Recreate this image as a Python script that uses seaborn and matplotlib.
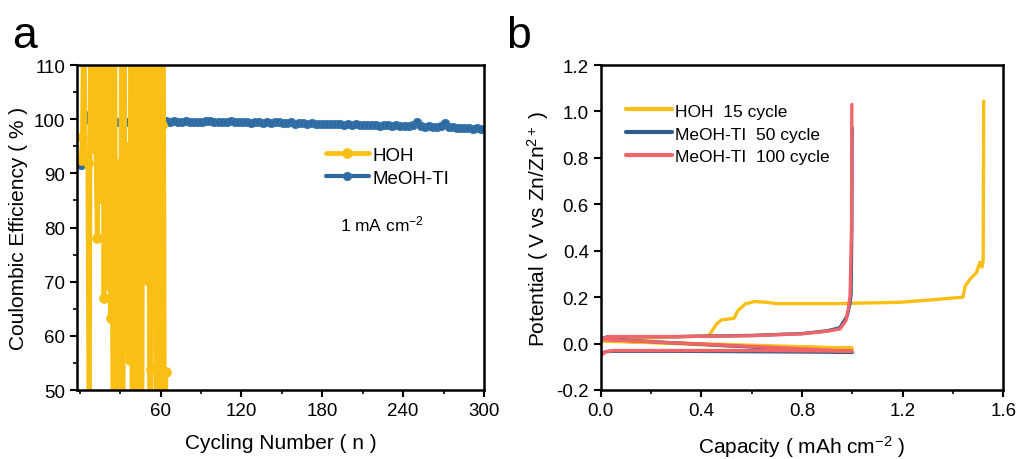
import numpy as np
import pandas as pd
import matplotlib.pyplot as plt
import seaborn as sns
from matplotlib.ticker import MultipleLocator

# ---- panel a : coulombic efficiency ----
hoh_cycle = list(range(1, 65))
hoh_ce = [92.5, 96.7, 125, 93.5, 93.2, 91.9, 35, 125, 95.2, 125,
          125, 94.5, 78.1, 125, 85.5, 125, 125, 67.0, 125, 107.4,
          69.4, 125, 63.3, 76.7, 30, 125, 35, 81.4, 91.7, 30,
          125, 30, 125, 58.3, 94.9, 57.1, 55.6, 125, 30, 93.0,
          125, 30, 125, 76.2, 125, 30, 125, 125, 125, 70.4,
          125, 30, 53.9, 125, 87.1, 125, 30, 125, 30, 125,
          98.9, 125, 30, 53.4]

meoh_cycle = list(range(1, 300, 3))
meoh_ce = [91.5, 100.8, 99.8, 99.5, 99.6, 99.5, 99.6, 99.5, 99.6, 99.5,
           99.6, 99.5, 99.6, 99.5, 99.6, 99.6, 99.5, 99.6, 99.6, 99.5,
           99.6, 99.6, 99.5, 99.6, 99.5, 99.5, 99.6, 99.5, 99.5, 99.4,
           99.5, 99.6, 99.7, 99.5, 99.5, 99.4, 99.5, 99.6, 99.4, 99.4,
           99.5, 99.4, 99.3, 99.4, 99.4, 99.3, 99.4, 99.3, 99.4, 99.5,
           99.3, 99.3, 99.4, 99.2, 99.3, 99.3, 99.2, 99.3, 99.2, 99.2,
           99.1, 99.2, 99.1, 99.2, 99.1, 99.0, 99.1, 99.0, 99.1, 98.9,
           99.0, 98.9, 99.0, 98.9, 98.8, 98.9, 98.9, 98.7, 98.9, 98.8,
           98.7, 98.8, 99.0, 99.4, 98.7, 98.6, 98.7, 98.5, 98.6, 98.8,
           99.3, 98.5, 98.5, 98.4, 98.4, 98.3, 98.4, 98.2, 98.3, 98.2]

# ---- panel b : voltage profiles (discharge then charge) ----
hoh_cap = [0.0, 0.1, 0.3, 0.5, 0.8, 1.0,
           0.0, 0.05, 0.2, 0.43, 0.46, 0.48, 0.53, 0.545, 0.575, 0.61, 0.66, 0.70,
           0.93, 1.19, 1.32, 1.44, 1.448, 1.468, 1.494, 1.507, 1.515, 1.52, 1.522]
hoh_v = [0.01, 0.008, 0.0, -0.01, -0.016, -0.02,
         0.012, 0.02, 0.025, 0.034, 0.084, 0.102, 0.109, 0.142, 0.171, 0.181, 0.178, 0.172,
         0.172, 0.178, 0.189, 0.200, 0.247, 0.278, 0.307, 0.350, 0.33, 0.36, 1.045]

m50_cap = [0.0, 0.02, 0.05, 0.3, 0.6, 0.9, 1.0,
           0.0, 0.03, 0.3, 0.6, 0.8, 0.9, 0.95, 0.98, 0.99, 0.995, 0.998, 0.999]
m50_v = [-0.045, -0.035, -0.033, -0.033, -0.035, -0.037, -0.038,
         0.02, 0.03, 0.03, 0.035, 0.043, 0.055, 0.068, 0.12, 0.17, 0.21, 0.5, 0.93]

m100_cap = [0.0, 0.02, 0.05, 0.3, 0.6, 0.9, 1.0,
            0.0, 0.03, 0.3, 0.6, 0.8, 0.9, 0.951, 0.975, 0.984, 0.991, 0.997, 0.998]
m100_v = [-0.052, -0.035, -0.03, -0.03, -0.03, -0.032, -0.033,
          0.018, 0.03, 0.03, 0.034, 0.042, 0.053, 0.063, 0.10, 0.149, 0.206, 0.5, 1.03]

# colours
c_yel = "#F9BF14"
c_blu = "#2E6AA2"
c_nav = "#2F5A8C"
c_red = "#F0656A"

sns.set_style("ticks")
plt.rcParams['font.family'] = ['Liberation Sans', 'DejaVu Sans']
plt.rcParams['mathtext.fontset'] = 'custom'
plt.rcParams['mathtext.rm'] = 'Liberation Sans'
plt.rcParams['mathtext.it'] = 'Liberation Sans'
plt.rcParams['axes.linewidth'] = 1.8
plt.rcParams['axes.edgecolor'] = 'black'
plt.rcParams['text.color'] = 'black'
plt.rcParams['axes.labelcolor'] = 'black'
plt.rcParams['xtick.color'] = 'black'
plt.rcParams['ytick.color'] = 'black'

fig = plt.figure(figsize=(10.19, 4.6), dpi=100)
ax1 = fig.add_axes([0.0756, 0.15, 0.3994, 0.7065])
ax2 = fig.add_axes([0.5895, 0.15, 0.3951, 0.7065])

# --- a ---
df_m = pd.DataFrame({"cycle": meoh_cycle, "ce": meoh_ce})
df_h = pd.DataFrame({"cycle": hoh_cycle, "ce": hoh_ce})
sns.lineplot(data=df_m, x="cycle", y="ce", ax=ax1, color=c_blu, lw=3,
             marker="o", markersize=6, markeredgecolor="#3D78AE", markeredgewidth=0.6,
             sort=False, estimator=None, label="MeOH-TI")
sns.lineplot(data=df_h, x="cycle", y="ce", ax=ax1, color=c_yel, lw=3.4,
             marker="o", markersize=7, markeredgecolor=c_yel, markeredgewidth=0.6,
             sort=False, estimator=None, label="HOH")
ax1.set_xlim(-2, 300)
ax1.set_ylim(50, 110)
ax1.set_xticks([60, 120, 180, 240, 300])
ax1.xaxis.set_minor_locator(MultipleLocator(30))
ax1.yaxis.set_major_locator(MultipleLocator(10))
ax1.yaxis.set_minor_locator(MultipleLocator(5))
ax1.set_xlabel("Cycling Number ( n )", fontsize=15, labelpad=10)
ax1.set_ylabel("Coulombic Efficiency ( % )", fontsize=15, labelpad=4)
h, l = ax1.get_legend_handles_labels()
ax1.legend(h[::-1], l[::-1], loc="upper left", bbox_to_anchor=(0.57, 0.8), frameon=False,
           fontsize=13.5, handlelength=2.3, handletextpad=0.2, labelspacing=0.3)
ax1.text(193, 80.7, "1 mA cm$^{-2}$", fontsize=12.5, ha="left", va="center")

# --- b ---
sns.lineplot(x=hoh_cap, y=hoh_v, ax=ax2, color=c_yel, lw=2.4, sort=False,
             estimator=None, label="HOH  15 cycle")
sns.lineplot(x=m50_cap, y=m50_v, ax=ax2, color=c_nav, lw=2.4, sort=False,
             estimator=None, label="MeOH-TI  50 cycle")
sns.lineplot(x=m100_cap, y=m100_v, ax=ax2, color=c_red, lw=2.4, sort=False,
             estimator=None, label="MeOH-TI  100 cycle")
ax2.set_xlim(0, 1.6)
ax2.set_ylim(-0.2, 1.2)
ax2.xaxis.set_major_locator(MultipleLocator(0.4))
ax2.xaxis.set_minor_locator(MultipleLocator(0.2))
ax2.yaxis.set_major_locator(MultipleLocator(0.2))
ax2.xaxis.set_major_formatter(plt.FormatStrFormatter('%.1f'))
ax2.yaxis.set_major_formatter(plt.FormatStrFormatter('%.1f'))
ax2.set_xlabel("Capacity ( mAh cm$^{-2}$ )", fontsize=15, labelpad=10)
ax2.set_ylabel("Potential ( V vs Zn/Zn$^{2+}$ )", fontsize=15, labelpad=4)
leg = ax2.legend(loc="upper left", bbox_to_anchor=(0.025, 0.93), frameon=False,
                 fontsize=12.5, handlelength=2.6, handletextpad=0.2, labelspacing=0.45)
for ln in leg.get_lines():
    ln.set_linewidth(3)

for ax in (ax1, ax2):
    ax.tick_params(which="major", length=5, width=1.5, labelsize=13.5, direction="out")
    ax.tick_params(which="minor", length=3, width=1.2, direction="out")
    for s in ax.spines.values():
        s.set_visible(True)

fig.text(0.012, 0.895, "a", fontsize=32)
fig.text(0.497, 0.895, "b", fontsize=32)

fig.savefig("out.png", dpi=100)
